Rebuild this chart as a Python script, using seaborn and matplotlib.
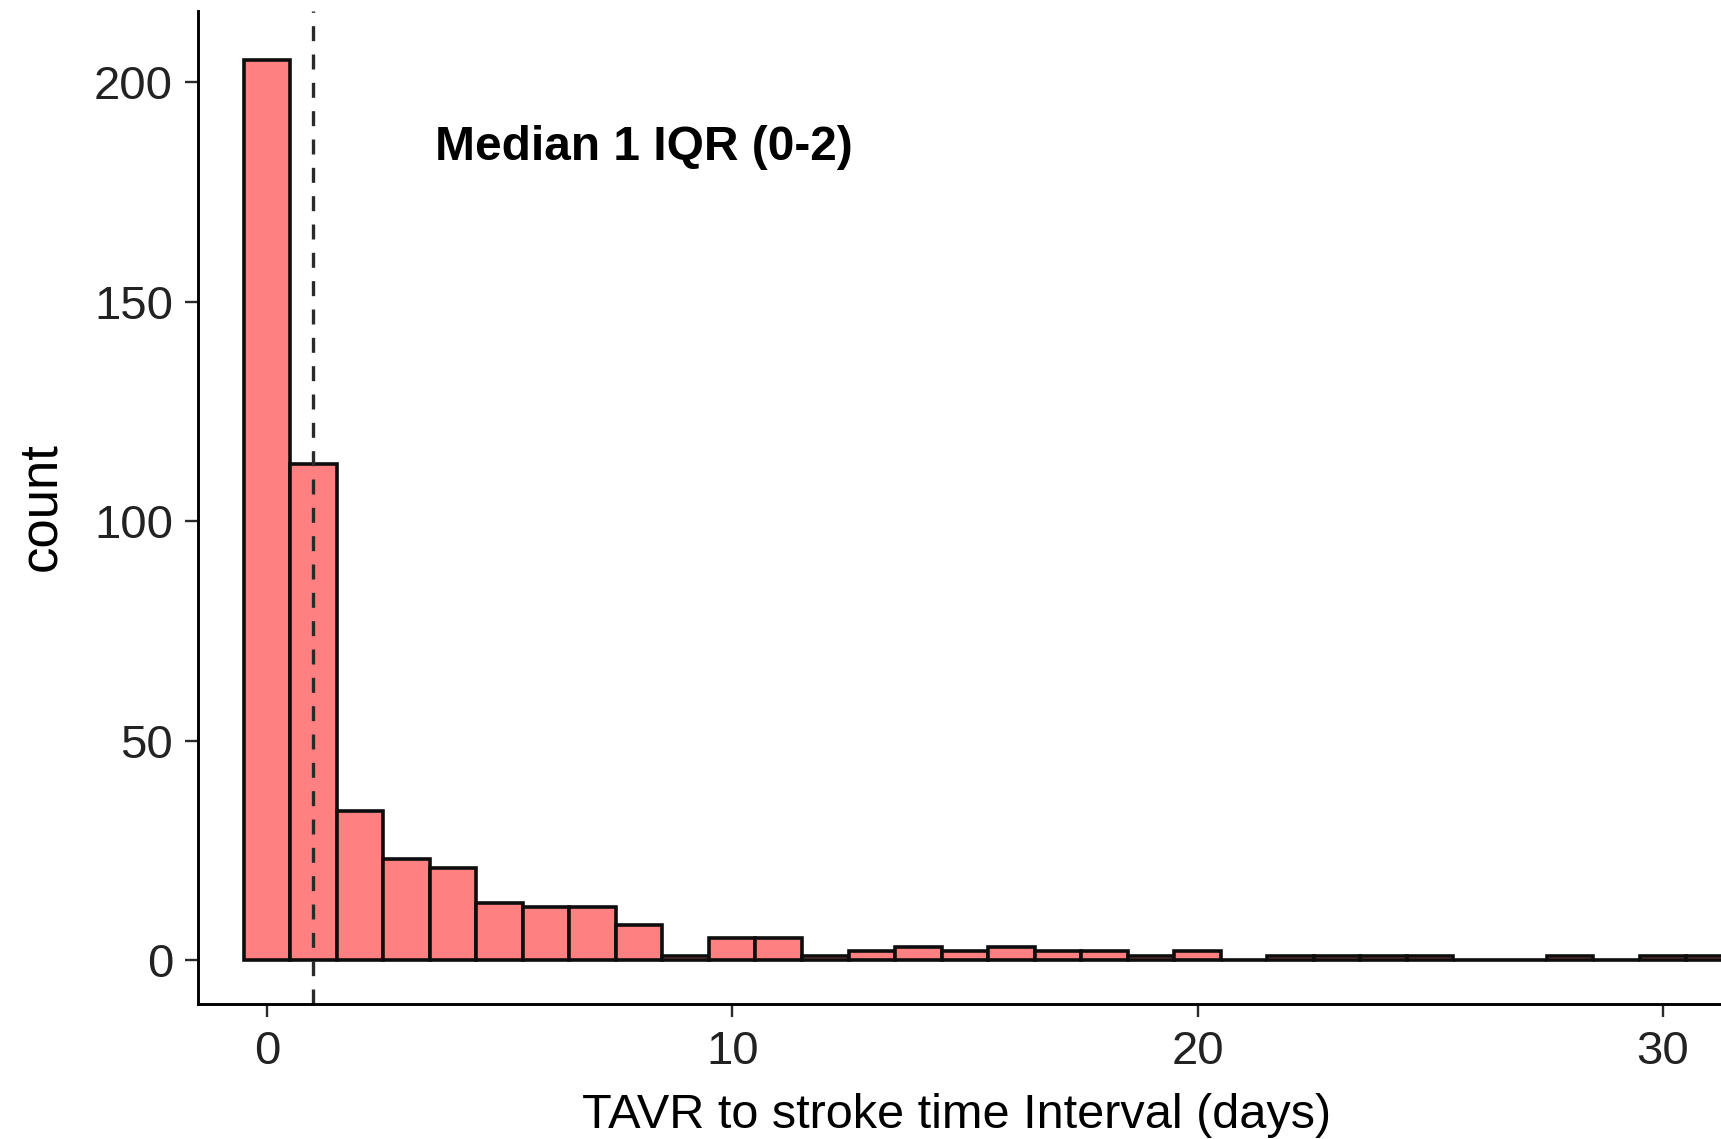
import numpy as np
import pandas as pd
import matplotlib
matplotlib.use("Agg")
import matplotlib.pyplot as plt
import seaborn as sns

# Days from TAVR to stroke (bin centres) and number of patients in each bin
days = list(range(0, 32))
counts = [205, 113, 34, 23, 21, 13, 12, 12, 8, 1,
          5, 5, 1, 2, 3, 2, 3, 2, 2, 1,
          2, 0, 1, 1, 1, 1, 0, 0, 1, 0,
          1, 1]
median_day = 1
x_ticks = [0, 10, 20, 30]
y_ticks = [0, 50, 100, 150, 200]
annotation = "Median 1 IQR (0-2)"

sns.set_style("ticks")
plt.rcParams["font.family"] = ["Liberation Sans", "DejaVu Sans"]

W, H = 1721, 1139
fig = plt.figure(figsize=(W / 100, H / 100), dpi=100)
left_px, right_px, top_px, bottom_px = 197.6, 1721, 11, 1004
ax = fig.add_axes([left_px / W, (H - bottom_px) / H,
                   (right_px - left_px) / W, (bottom_px - top_px) / H])

df = pd.DataFrame({"days": days, "n": counts})
edges = [d - 0.5 for d in days] + [days[-1] + 0.5]
sns.histplot(data=df, x="days", weights="n", bins=edges, color="#FF8080",
             edgecolor="#0d0d0d", linewidth=2.6, alpha=1, ax=ax)

ax.axvline(median_day, color="#2a2a2a", lw=2.4, dashes=(4.5, 4))
ax.text(8.1, 185, annotation, ha="center", va="center",
        fontsize=34.5, fontweight="bold", color="black")

ax.set_xlim(-1.49, 31.25)
ax.set_ylim(-10, 216.2)
ax.set_xticks(x_ticks)
ax.set_yticks(y_ticks)

for side in ("top", "right"):
    ax.spines[side].set_visible(False)
for side in ("left", "bottom"):
    ax.spines[side].set_linewidth(2.1)
    ax.spines[side].set_color("black")

ax.tick_params(axis="both", length=9.4, width=1.7, color="#2a2a2a",
               labelsize=34, labelcolor="#222222")
ax.tick_params(axis="y", pad=8.3)
ax.tick_params(axis="x", pad=9.5)

ax.set_xlabel("TAVR to stroke time Interval (days)", fontsize=35, color="black")
ax.set_ylabel("count", fontsize=38, color="black")
ax.xaxis.set_label_coords((957 - left_px) / (right_px - left_px), -0.0895)
ax.yaxis.set_label_coords(-0.0864, 0.5005)

fig.savefig("out.png", dpi=100)
